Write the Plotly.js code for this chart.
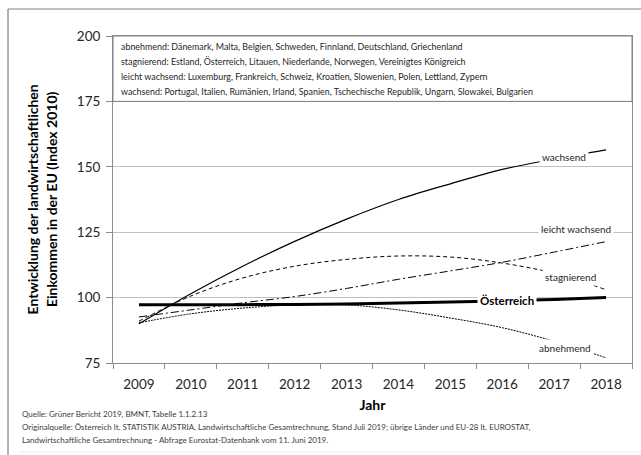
<!DOCTYPE html>
<html>
<head>
<meta charset="utf-8">
<script src="https://cdn.plot.ly/plotly-3.0.1.min.js"></script>
<style>html,body{margin:0;padding:0;background:#fff;}#chart{width:641px;height:455px;}</style>
</head>
<body>
<div id="chart"></div>
<script>
const years = ['2009','2010','2011','2012','2013','2014','2015','2016','2017','2018'];
const abnehmend = [90.4, 93.8, 96, 97.2, 97.2, 95.3, 92.2, 88.5, 83.3, 77];
const stagnierend = [91, 100.6, 107.5, 112, 114.6, 115.9, 115.5, 113.2, 109.3, 103];
const leichtWachsend = [92.6, 95.3, 98, 100.4, 103.5, 107, 110.2, 113.5, 117.4, 121.4];
const wachsend = [90, 101.5, 112, 121.5, 130, 137.5, 143.5, 149, 153, 156.5];
const oesterreich = [97.3, 97.3, 97.3, 97.4, 97.6, 97.9, 98.3, 98.8, 99.3, 100];

const groupLines = [
  'abnehmend: Dänemark, Malta, Belgien, Schweden, Finnland, Deutschland, Griechenland',
  'stagnierend: Estland, Österreich, Litauen, Niederlande, Norwegen, Vereinigtes Königreich',
  'leicht wachsend: Luxemburg, Frankreich, Schweiz, Kroatien, Slowenien, Polen, Lettland, Zypern',
  'wachsend: Portugal, Italien, Rumänien, Irland, Spanien, Tschechische Republik, Ungarn, Slowakei, Bulgarien'
];
const footerLines = [
  'Quelle: Grüner Bericht 2019, BMNT, Tabelle 1.1.2.13',
  'Originalquelle: Österreich lt. STATISTIK AUSTRIA, Landwirtschaftliche Gesamtrechnung, Stand Juli 2019; übrige Länder und EU-28 lt. EUROSTAT,',
  'Landwirtschaftliche Gesamtrechnung - Abfrage Eurostat-Datenbank vom 11. Juni 2019.'
];
const yTitle = 'Entwicklung der landwirtschaftlichen<br>Einkommen in der EU (Index 2010)';
const xTitle = 'Jahr';

const FONT = 'Lato, "Open Sans", sans-serif';
const sp = {shape:'spline', smoothing:1};

const traces = [
  {x: years, y: abnehmend, mode:'lines', line: Object.assign({color:'#000', width:1, dash:'2px,1px'}, sp)},
  {x: years, y: stagnierend, mode:'lines', line: Object.assign({color:'#000', width:1, dash:'4px,3px'}, sp)},
  {x: years, y: leichtWachsend, mode:'lines', line: Object.assign({color:'#000', width:1, dash:'8px,3px,2px,3px'}, sp)},
  {x: years, y: wachsend, mode:'lines', line: Object.assign({color:'#000', width:1.2}, sp)},
  {x: years, y: oesterreich, mode:'lines', line: Object.assign({color:'#000', width:3}, sp)}
];

const annotations = [];
const groupY = [196, 190.3, 184.6, 178.9];
groupLines.forEach((t, i) => annotations.push({
  text: t, xref:'paper', x: 0.0116, xanchor:'left', yref:'y', y: groupY[i], yanchor:'middle',
  showarrow:false, font:{family:FONT, size:8.9, color:'#262626'}
}));
const footY = [-0.156, -0.196, -0.235];
footerLines.forEach((t, i) => annotations.push({
  text: t, xref:'paper', x: -0.179, xanchor:'left', yref:'paper', y: footY[i], yanchor:'middle',
  showarrow:false, font:{family:FONT, size:8, color:'#404040'}
}));
const lbl = (t, x, y, bold) => ({
  text: t, xref:'x', x: x, yref:'y', y: y, showarrow:false, bgcolor:'#fff', borderpad:2,
  font:{family:FONT, size: bold ? 11.5 : 10, color: bold ? '#000' : '#262626'}
});
annotations.push(lbl('wachsend', 8.19, 153.9, false));
annotations.push(lbl('leicht wachsend', 8.42, 126.1, false));
annotations.push(lbl('stagnierend', 8.32, 108, false));
annotations.push(lbl('abnehmend', 8.2, 80.9, false));
annotations.push(lbl('<b>Österreich</b>', 7.1, 99, true));
annotations.push({
  text: '<b>' + yTitle + '</b>', xref:'paper', x: -0.137, xanchor:'center', yref:'paper', y: 0.5, yanchor:'middle',
  textangle:-90, showarrow:false, font:{family:FONT, size:14, color:'#000'}
});

const layout = {
  width: 641, height: 455,
  margin: {l:113, r:9, t:36, b:92},
  paper_bgcolor:'#fff', plot_bgcolor:'#fff',
  showlegend:false,
  font:{family:FONT, color:'#262626'},
  xaxis: {
    type:'category', range:[-0.5, 9.5], tickson:'boundaries', ticks:'outside', ticklen:5, tickcolor:'#8c8c8c',
    showline:true, linecolor:'#8c8c8c', mirror:true, showgrid:false, zeroline:false,
    tickfont:{family:FONT, size:13.5, color:'#262626'}, ticklabelstandoff:9,
    title:{text:'<b>'+xTitle+'</b>', font:{family:FONT, size:14, color:'#000'}, standoff:8},
    fixedrange:true
  },
  yaxis: {
    range:[75, 200], dtick:25, tick0:75, ticks:'outside', ticklen:6, tickcolor:'#8c8c8c',
    showline:true, linecolor:'#8c8c8c', mirror:true, showgrid:true, gridcolor:'#c0c0c0', zeroline:false,
    tickfont:{family:FONT, size:13.5, color:'#262626'}, ticklabelstandoff:3,
    fixedrange:true
  },
  shapes: [
    {type:'rect', xref:'paper', x0:0, x1:1, yref:'y', y0:175, y1:200, line:{color:'#808080', width:1}, layer:'above'},
    {type:'line', xref:'paper', x0:-0.2023, x1:-0.2023, yref:'paper', y0:1.0826, y1:-0.3, line:{color:'#808080', width:1.2}},
    {type:'line', xref:'paper', x0:-0.2023, x1:1.02, yref:'paper', y0:1.0826, y1:1.0826, line:{color:'#808080', width:1.2}},
    {type:'line', xref:'paper', x0:-0.179, x1:1.02, yref:'paper', y0:-0.272, y1:-0.272, line:{color:'#eeeeee', width:1}}
  ],
  annotations: annotations
};

Plotly.newPlot('chart', traces, layout, {staticPlot:true, displayModeBar:false});
</script>
</body>
</html>
